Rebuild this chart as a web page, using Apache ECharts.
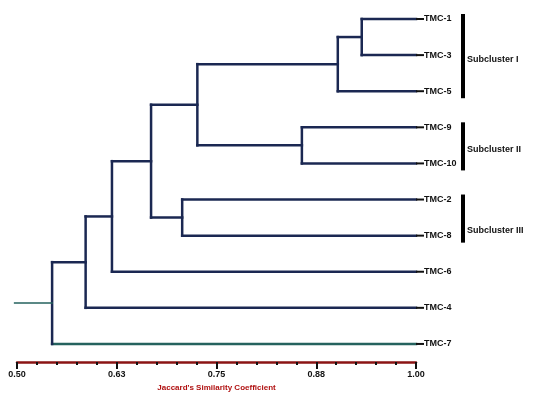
<!DOCTYPE html>
<html><head><meta charset="utf-8">
<script src="https://cdn.jsdelivr.net/npm/echarts@6/dist/echarts.min.js"></script>
<style>html,body{margin:0;padding:0;background:#fff}#c{width:536px;height:393px}</style>
</head><body><div id="c"></div>
<script>
// Leaves, top to bottom
const leaves = ['TMC-1','TMC-3','TMC-5','TMC-9','TMC-10','TMC-2','TMC-8','TMC-6','TMC-4','TMC-7'];
// Merge steps (N0..N8): children and similarity level
const mergeA = ['TMC-1','N0','TMC-9','N1','TMC-2','N3','N5','N6','N7'];
const mergeB = ['TMC-3','TMC-5','TMC-10','N2','TMC-8','N4','TMC-6','TMC-4','TMC-7'];
const mergeSim = [0.932,0.902,0.857,0.726,0.707,0.668,0.619,0.586,0.544];
const leafSim = 1.00;
const rootStart = 0.497;
// Axis ticks
const tickValues = [0.50,0.625,0.75,0.875,1.00];
const tickLabels = ['0.50','0.63','0.75','0.88','1.00'];
const axisTitle = "Jaccard's Similarity Coefficient";
// Subclusters
const subNames = ['Subcluster I','Subcluster II','Subcluster III'];
const subFrom = [0,3,5];
const subTo = [2,4,6];

const navy = '#1b2852', teal = '#25625e';
const tealLeaves = ['TMC-7'];

function renderItem(params, api){
  const pos = {}; // name -> [sim, y]
  leaves.forEach((n,i)=>{ pos[n] = [leafSim, i]; });
  const ch = [];
  const seg = (a,b,col,w)=>{
    const p1 = api.coord(a), p2 = api.coord(b);
    ch.push({type:'line', shape:{x1:p1[0],y1:p1[1],x2:p2[0],y2:p2[1]}, style:{stroke:col||navy, lineWidth:w||2.5, lineCap:'square'}});
  };
  mergeSim.forEach((s,k)=>{
    const a = pos[mergeA[k]], b = pos[mergeB[k]];
    const colA = tealLeaves.includes(mergeA[k]) ? teal : navy;
    const colB = tealLeaves.includes(mergeB[k]) ? teal : navy;
    seg([a[0],a[1]],[s,a[1]],colA);
    seg([b[0],b[1]],[s,b[1]],colB);
    seg([s,a[1]],[s,b[1]],navy);
    pos['N'+k] = [s,(a[1]+b[1])/2];
  });
  const root = pos['N'+(mergeSim.length-1)];
  seg([rootStart,root[1]],[root[0],root[1]],teal,1.5);
  // leaf labels
  leaves.forEach((n,i)=>{
    const p = api.coord([leafSim,i]);
    ch.push({type:'line', shape:{x1:p[0],y1:p[1],x2:p[0]+8,y2:p[1]}, style:{stroke:'#111',lineWidth:2}});
    ch.push({type:'text', x:p[0]+8, y:p[1], style:{text:n, fill:'#111', font:'bold 9px Arial', textVerticalAlign:'middle', textAlign:'left'}});
  });
  // subcluster brackets
  subNames.forEach((s,j)=>{
    const t = api.coord([leafSim, subFrom[j]]), b = api.coord([leafSim, subTo[j]]);
    const x = t[0]+45;
    ch.push({type:'rect', shape:{x:x, y:t[1]-5, width:4, height:b[1]-t[1]+12}, style:{fill:'#000'}});
    const ty = j===2 ? b[1]-5 : (t[1]+b[1])/2+4;
    ch.push({type:'text', x:x+6, y:ty, style:{text:s, fill:'#111', font:'bold 9px Arial', textVerticalAlign:'middle', textAlign:'left'}});
  });
  return {type:'group', children:ch};
}

const chart = echarts.init(document.getElementById('c'), null, {renderer:'canvas'});
chart.setOption({
  backgroundColor:'#fff',
  animation:false,
  grid:{left:17, width:399, top:19, height:343, containLabel:false, outerBoundsMode:'none'},
  xAxis:{
    type:'value', min:0.50, max:1.00, interval:0.125,
    axisLine:{show:true, onZero:false, lineStyle:{color:'#8b1414', width:2.5}},
    axisTick:{show:true, length:7, lineStyle:{color:'#111', width:2}},
    minorTick:{show:true, splitNumber:5, length:3, lineStyle:{color:'#111', width:2}},
    splitLine:{show:false},
    axisLabel:{margin:8, color:'#111', fontWeight:'bold', fontSize:9, fontFamily:'Arial',
      formatter:(v)=>{ const i = tickValues.findIndex(t=>Math.abs(t-v)<1e-6); return i>=0 ? tickLabels[i] : ''; }},
    name:axisTitle, nameLocation:'middle', nameGap:21,
    nameTextStyle:{color:'#b01010', fontWeight:'bold', fontSize:8, fontFamily:'Arial'}
  },
  yAxis:{type:'value', inverse:true, min:0, max:9.5, show:false},
  series:[{type:'custom', renderItem:renderItem, data:[[0.5,0]], clip:false, silent:true}]
});
</script></body></html>
